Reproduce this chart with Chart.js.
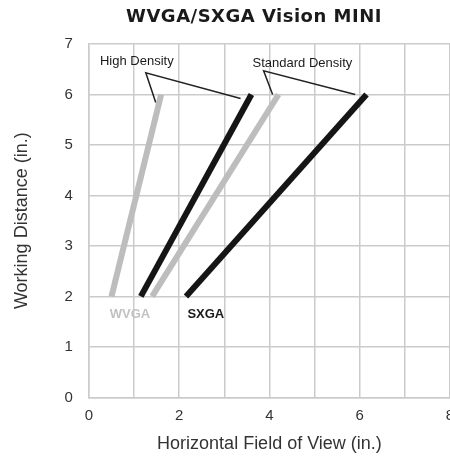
<!DOCTYPE html>
<html>
<head>
<meta charset="utf-8">
<script src="https://cdn.jsdelivr.net/npm/chart.js@4"></script>
<style>
  html, body { margin: 0; padding: 0; background: #fff; overflow: hidden; }
  #wrap { width: 450px; height: 467px; }
</style>
</head>
<body>
<div id="wrap"><canvas id="fovChart" width="450" height="467"></canvas></div>
<script>
// values (inches)
const workingDistance = [2, 6];
const wvgaHighFov = [0.5, 1.6];
const sxgaHighFov = [1.15, 3.6];
const wvgaStdFov = [1.4, 4.2];
const sxgaStdFov = [2.15, 6.15];

const xTicks = [0, 2, 4, 6, 8];
const yTicks = [0, 1, 2, 3, 4, 5, 6, 7];

// callout leader lines, in data units
const highCalloutX = [1.48, 1.26, 3.36];
const highCalloutY = [5.84, 6.43, 5.92];
const stdCalloutX = [4.07, 3.87, 5.9];
const stdCalloutY = [6.0, 6.47, 6.0];

// text labels, anchored in data units
const labelText = ["High Density", "Standard Density", "WVGA", "SXGA"];
const labelX = [1.06, 4.73, 0.91, 2.59];
const labelY = [6.65, 6.62, 1.65, 1.65];

const chartTitle = "WVGA/SXGA Vision MINI";

const toPoints = (xs, ys) => xs.map((x, i) => ({ x: x, y: ys[i] }));

const GREY = "#bdbdbd";
const BLACK = "#151515";
const GRID = "#cbcbcb";

const annotations = {
  id: "annotations",
  afterDatasetsDraw(chart) {
    const ctx = chart.ctx;
    const xs = chart.scales.x;
    const ys = chart.scales.y;
    ctx.save();
    ctx.textAlign = "center";
    ctx.textBaseline = "middle";
    labelText.forEach((t, i) => {
      const bold = i >= 2;
      ctx.font = (bold ? "bold " : "") + "13px 'Liberation Sans', Arial, sans-serif";
      ctx.fillStyle = t === "WVGA" ? "#c2c2c2" : "#1a1a1a";
      ctx.fillText(t, xs.getPixelForValue(labelX[i]), ys.getPixelForValue(labelY[i]));
    });
    // title
    ctx.font = "bold 18px 'DejaVu Sans', sans-serif";
    ctx.letterSpacing = "0.5px";
    ctx.fillStyle = "#1a1a1a";
    ctx.fillText(chartTitle, 254, 17);
    ctx.restore();
  }
};

const ctx = document.getElementById("fovChart").getContext("2d");
new Chart(ctx, {
  type: "scatter",
  data: {
    datasets: [
      { label: "WVGA High Density", data: toPoints(wvgaHighFov, workingDistance), borderColor: GREY, borderWidth: 6 },
      { label: "WVGA Standard Density", data: toPoints(wvgaStdFov, workingDistance), borderColor: GREY, borderWidth: 6 },
      { label: "SXGA High Density", data: toPoints(sxgaHighFov, workingDistance), borderColor: BLACK, borderWidth: 6 },
      { label: "SXGA Standard Density", data: toPoints(sxgaStdFov, workingDistance), borderColor: BLACK, borderWidth: 6 },
      { label: "High callout", data: toPoints(highCalloutX, highCalloutY), borderColor: "#222", borderWidth: 1.5 },
      { label: "Standard callout", data: toPoints(stdCalloutX, stdCalloutY), borderColor: "#222", borderWidth: 1.5 },
    ].map((d) => Object.assign(d, { showLine: true, pointRadius: 0, borderCapStyle: "butt", tension: 0 })),
  },
  options: {
    responsive: false,
    animation: false,
    layout: { padding: { top: 44, left: 7, right: 0, bottom: 6 } },
    plugins: {
      legend: { display: false },
      tooltip: { enabled: false },
    },
    scales: {
      x: {
        type: "linear",
        min: 0,
        max: 8,
        afterFit: (scale) => { scale.paddingRight = 0; },
        afterBuildTicks: (scale) => { scale.ticks = [0, 1, 2, 3, 4, 5, 6, 7, 8].map((v) => ({ value: v })); },
        grid: { color: GRID, lineWidth: 1.5, drawTicks: false },
        border: { color: GRID, width: 1.5 },
        ticks: {
          padding: 9,
          color: "#333",
          font: { family: "'Liberation Sans', Arial, sans-serif", size: 15 },
          callback: (v) => (xTicks.includes(v) ? String(v) : ""),
        },
        title: {
          display: true,
          text: "Horizontal Field of View (in.)",
          color: "#333",
          font: { family: "'Liberation Sans', Arial, sans-serif", size: 18 },
          padding: { top: 0, bottom: 6 },
        },
      },
      y: {
        type: "linear",
        min: 0,
        max: 7,
        afterBuildTicks: (scale) => { scale.ticks = yTicks.map((v) => ({ value: v })); },
        grid: { color: GRID, lineWidth: 1.5, drawTicks: false },
        border: { color: GRID, width: 1.5 },
        ticks: {
          padding: 16,
          color: "#333",
          font: { family: "'Liberation Sans', Arial, sans-serif", size: 15 },
        },
        title: {
          display: true,
          text: "Working Distance (in.)",
          color: "#333",
          font: { family: "'Liberation Sans', Arial, sans-serif", size: 18 },
          padding: { top: 4, bottom: 16 },
        },
      },
    },
  },
  plugins: [annotations],
});
</script>
</body>
</html>
